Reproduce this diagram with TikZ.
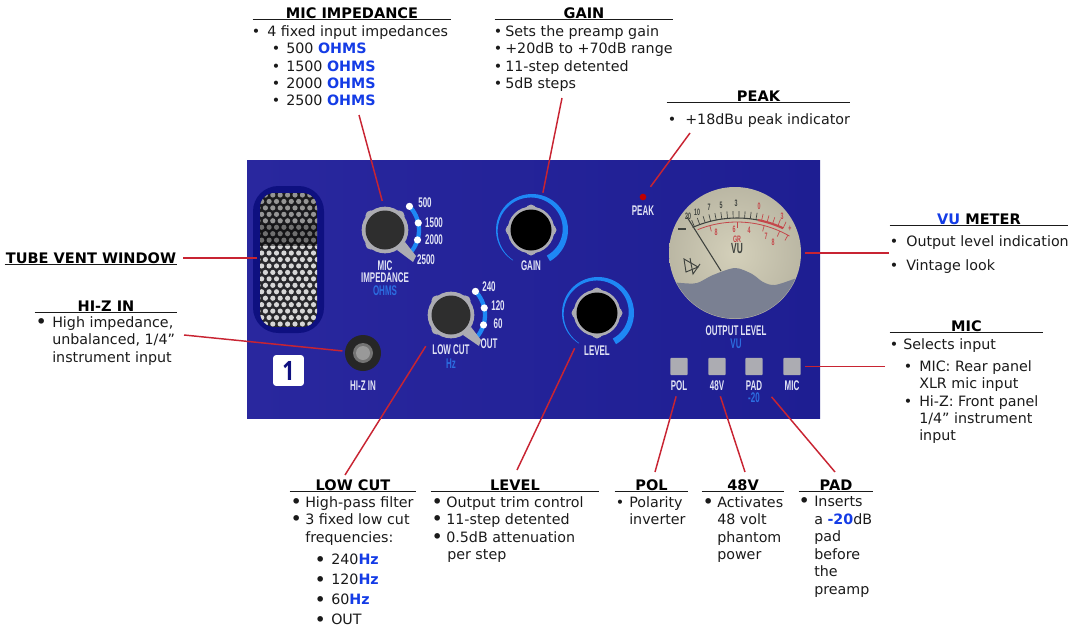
\documentclass[tikz,border=0pt]{standalone}
\usepackage{fontspec}
\setmainfont{DejaVu Sans}
\newfontfamily\panelfont[FakeStretch=0.57]{Liberation Sans Bold}
\newfontfamily\channelfont[FakeStretch=0.8]{Open Sans Bold}
\usepackage{tikz}
\usepackage{xcolor}
\definecolor{panelleft}{RGB}{41,39,158}
\definecolor{panelright}{RGB}{30,30,146}
\definecolor{ventblue}{RGB}{14,16,128}
\definecolor{meshdark}{RGB}{40,40,44}
\definecolor{ringgray}{RGB}{172,172,178}
\definecolor{arcblue}{RGB}{30,136,245}
\definecolor{panelwhite}{RGB}{226,228,245}
\definecolor{labelblue}{RGB}{44,110,225}
\definecolor{txtblue}{RGB}{20,60,230}
\definecolor{leadred}{RGB}{200,36,50}
\definecolor{inktext}{RGB}{26,26,26}
\definecolor{vucream}{RGB}{212,208,186}
\definecolor{vuwave}{RGB}{122,128,146}
\definecolor{vuink}{RGB}{62,66,62}
\definecolor{vured}{RGB}{196,70,74}
\tikzstyle{leader} = [color=leadred, line width=1.1pt]
\tikzstyle{headtext} = [font=\bfseries\fontsize{10.9}{12}\selectfont, text=black, inner sep=0pt, minimum height=9pt, text height=8pt, text depth=0pt]
\tikzstyle{headrule} = [color=inktext, line width=0.8pt]
\tikzstyle{listtext} = [font=\fontsize{10.7}{13.1}\selectfont, text=inktext, inner sep=0pt, anchor=north west, align=left, execute at begin node=\strut]
\tikzstyle{paneltext} = [font=\panelfont\fontsize{10.5}{12}\selectfont, text=panelwhite, inner sep=0pt]
\tikzstyle{bluetext} = [font=\panelfont\fontsize{10.5}{12}\selectfont, text=labelblue, inner sep=0pt]
\tikzstyle{knobring} = [circle, fill=ringgray, minimum size=35pt, inner sep=0pt, outer sep=0pt]
\tikzstyle{switchbtn} = [rectangle, rounded corners=0.8pt, fill=ringgray, minimum size=13pt, inner sep=0pt, outer sep=0pt]
\tikzstyle{stepdot} = [fill=white]
\newcommand{\hl}[1]{\textcolor{txtblue}{\textbf{#1}}}
\newcommand{\bul}[1][9pt]{\makebox[#1][l]{\hspace*{-2.5pt}\textbullet}}
\newcommand{\bbul}[1][9pt]{\makebox[#1][l]{\hspace*{-3.5pt}\raisebox{-0.8pt}{\scalebox{1.35}{\textbullet}}}}
% name, position, rotation of the bumps, colour of the cap, radius of the cap
\newcommand{\drawknob}[5]{%
\node (#1) [knobring] at (#2) {};
\foreach \a in {0,90,180,270}
  \fill[ringgray] ([shift={(\a+#3:20)}]#1.center) circle (5.5);
\fill[#4] (#1.center) circle (#5);
}

\begin{document}
\begin{tikzpicture}[x=0.75pt, y=-0.75pt]
\useasboundingbox (0,0) rectangle (1078,639);

% Panel
\node (panel) [rectangle, left color=panelleft, right color=panelright, minimum width=429.75pt, minimum height=193.5pt, inner sep=0pt] at (533.5,289) {};

% Tube vent window
\node (vent) [rectangle, rounded corners=19pt, fill=ventblue, minimum width=53.25pt, minimum height=110.25pt, inner sep=0pt, outer sep=0pt] at (288.5,259.5) {};
\begin{scope}
\clip[rounded corners=11pt] (260,193) rectangle (317,327);
\fill[meshdark] (260,193) rectangle (317,327);
\foreach \r in {0,...,21}
  \foreach \c in {0,...,8}
    \fill[white!84!black] ({258+\c*7.4+mod(\r,2)*3.7},{195+\r*6.45}) circle (2.6);
\fill[black, opacity=0.3] (260,193) rectangle (317,224);
\fill[black, opacity=0.48] (260,224) rectangle (317,246);
\end{scope}

% Channel number and Hi-Z jack
\node (channel) [rectangle, rounded corners=2pt, fill=white, minimum size=23pt, inner sep=0pt, text=ventblue, font=\channelfont\fontsize{20}{20}\selectfont] at (288.5,370.5) {1};
\node (jack) [circle, fill=black!85, minimum size=27pt, inner sep=0pt, outer sep=0pt] at (363,353) {};
\fill[black!55] (jack.center) circle (10);
\fill[black!40] (jack.center) circle (7);
\node (jacklabel) [paneltext] at (363,386) {HI-Z IN};

% Mic impedance switch
\draw[arcblue, line width=3.2pt] plot[domain=-44:45, samples=20] ({385+34*cos(\x)},{230+34*sin(\x)});
\drawknob{micknob}{385,230}{45}{black!82}{19.5}
\fill[ringgray] (405,242) -- (416,256) -- (413,262) -- (397,250) -- cycle;
\foreach \p in {-44,-12,17}
  \fill[stepdot] ({385+34*cos(\p)},{230+34*sin(\p)}) circle (3.6);
\node (mic500) [paneltext] at (425,203) {500};
\node (mic1500) [paneltext] at (434,223) {1500};
\node (mic2000) [paneltext] at (434,240) {2000};
\node (mic2500) [paneltext] at (426,260) {2500};
\node (micname) [paneltext] at (385,266) {MIC};
\node (micname2) [paneltext] at (385,278) {IMPEDANCE};
\node (micunit) [bluetext] at (385,291) {OHMS};

% Low cut switch
\draw[arcblue, line width=3.2pt] plot[domain=-44:45, samples=20] ({451+34*cos(\x)},{315+34*sin(\x)});
\drawknob{lowknob}{451,315}{45}{black!82}{19.5}
\fill[ringgray] (471,327) -- (481,340) -- (479,346) -- (463,335) -- cycle;
\foreach \p in {-44,-12,17}
  \fill[stepdot] ({451+34*cos(\p)},{315+34*sin(\p)}) circle (3.6);
\node (low240) [paneltext] at (489,287) {240};
\node (low120) [paneltext] at (498,306) {120};
\node (low60) [paneltext] at (498,324) {60};
\node (lowout) [paneltext] at (489,344) {OUT};
\node (lowname) [paneltext] at (451,350) {LOW CUT};
\node (lowunit) [bluetext] at (451,364) {Hz};

% Gain knob
\fill[arcblue] plot[domain=122:420, samples=50] ({532+36*cos(\x)},{230+36*sin(\x)})
  -- plot[domain=420:122, samples=50] ({532+(35.5-(\x-122)/298*6)*cos(\x)},{230+(35.5-(\x-122)/298*6)*sin(\x)}) -- cycle;
\drawknob{gainknob}{531,230}{0}{black}{20.5}
\node (gainname) [paneltext] at (531,266) {GAIN};

% Level knob
\fill[arcblue] plot[domain=122:420, samples=50] ({598+36*cos(\x)},{313+36*sin(\x)})
  -- plot[domain=420:122, samples=50] ({598+(35.5-(\x-122)/298*6)*cos(\x)},{313+(35.5-(\x-122)/298*6)*sin(\x)}) -- cycle;
\drawknob{levelknob}{597,313}{0}{black}{20.5}
\node (levelname) [paneltext] at (597,351) {LEVEL};

% Peak LED
\node (peakled) [circle, fill=red!75!black, minimum size=5pt, inner sep=0pt, outer sep=0pt] at (643,197) {};
\node (peakname) [paneltext] at (643,211) {PEAK};

% VU meter
\node (vu) [circle, inner color=vucream, outer color=vucream!88!black, minimum size=99pt, inner sep=0pt, outer sep=0pt] at (735,253) {};
\begin{scope}
\clip (735,253) circle (65.5);
\fill[vuwave] plot[smooth] coordinates {(665,281) (681,283) (697,283) (713,275) (735,268) (752,274) (763,282) (775,285) (797,278) (805,276)} -- (805,325) -- (665,325) -- cycle;
\end{scope}
\draw[vuink, line width=0.8pt] plot[domain=-114:-79, samples=20] ({737+109*cos(\x)},{327+109*sin(\x)});
\draw[vured, line width=1.6pt] plot[domain=-79:-65, samples=10] ({737+109*cos(\x)},{327+109*sin(\x)});
\draw[vured, line width=0.6pt] plot[domain=-112:-60, samples=20] ({737+105*cos(\x)},{327+105*sin(\x)});
\foreach \t in {-113,-110,-107,-104,-101,-98,-95,-92,-89,-86,-83,-80}
  \draw[vuink, line width=0.5pt] ({737+109*cos(\t)},{327+109*sin(\t)}) -- ({737+116*cos(\t)},{327+116*sin(\t)});
\foreach \t in {-77,-74,-71,-68,-65}
  \draw[vured, line width=0.5pt] ({737+109*cos(\t)},{327+109*sin(\t)}) -- ({737+116*cos(\t)},{327+116*sin(\t)});
\foreach \t in {-105,-90,-75,-66,-61}
  \draw[vured, line width=0.5pt] ({737+105*cos(\t)},{327+105*sin(\t)}) -- ({737+99*cos(\t)},{327+99*sin(\t)});
\foreach \x/\y/\s in {688/216/20,697/212/10,709/207/7,721/205/5,736/203/3}
  \node[font=\panelfont\fontsize{7}{8}\selectfont, text=vuink, inner sep=0pt] at (\x,\y) {\s};
\foreach \x/\y/\s in {759/206/0,782/216/3,790/229/+,716/232/8,734/229/6,749/230/4,766/236/7,773/242/8,737/239/GR}
  \node[font=\panelfont\fontsize{7}{8}\selectfont, text=vured, inner sep=0pt] at (\x,\y) {\s};
\node (vuword) [font=\panelfont\fontsize{11}{12}\selectfont, text=vuink, inner sep=0pt] at (737,249) {VU};
\draw[vuink, line width=0.7pt] (684,259) -- (698,267) -- (686,272) -- cycle;
\draw[vuink, line width=0.7pt] (690,258) -- (693,274) -- (700,264);
\draw[vuink, line width=0.8pt] (721,271) -- (687,217);
\draw[vuink, line width=1pt] (678,229) -- (686,229);
\node (vuname) [paneltext] at (736,331) {OUTPUT LEVEL};
\node (vuunit) [bluetext] at (736,344) {VU};

% Switches
\node (polbtn) [switchbtn] at (679,366.5) {};
\node (phantombtn) [switchbtn] at (717,366.5) {};
\node (padbtn) [switchbtn] at (754,366.5) {};
\node (micbtn) [switchbtn] at (792,366.5) {};
\node (polname) [paneltext] at (679,386) {POL};
\node (phantomname) [paneltext] at (717,386) {48V};
\node (padname) [paneltext] at (754,386) {PAD};
\node (padunit) [bluetext] at (754,398) {-20};
\node (micbtnname) [paneltext] at (792,386) {MIC};

% Labels round the panel
\node (micimphead) [headtext, minimum width=148.5pt] at (352,13) {MIC IMPEDANCE};
\node (micimplist) [listtext] at (255,25) {\bul 4 fixed input impedances\\
\hspace*{15pt}\bul[8.25pt]500 \hl{OHMS}\\
\hspace*{15pt}\bul[8.25pt]1500 \hl{OHMS}\\
\hspace*{15pt}\bul[8.25pt]2000 \hl{OHMS}\\
\hspace*{15pt}\bul[8.25pt]2500 \hl{OHMS}};

\node (gainhead) [headtext, minimum width=133.5pt] at (584,13) {GAIN};
\node (gainlist) [listtext] at (497,25) {\bul[6pt]Sets the preamp gain\\
\bul[6pt]+20dB to +70dB range\\
\bul[6pt]11-step detented\\
\bul[6pt]5dB steps};

\node (peakhead) [headtext, minimum width=137.25pt] at (758.5,96) {PEAK};
\node (peaklist) [listtext] at (671,112) {\bul[10.5pt]+18dBu peak indicator};

\node (vuhead) [headtext, minimum width=133.5pt] at (979,219) {\textcolor{txtblue}{VU} METER};
\node (vulist) [listtext] at (893,235) {\bul[9.75pt]Output level indication\\[4.9pt]
\bul[9.75pt]Vintage look};

\node (michead) [headtext, minimum width=114.75pt] at (966.5,326) {MIC};
\node (miclist) [listtext] at (893,338) {\bul[7.5pt]Selects input\\[3.4pt]
\hspace*{10.5pt}\bul MIC: Rear panel\\
\hspace*{19.5pt}XLR mic input\\
\hspace*{10.5pt}\bul Hi-Z: Front panel\\
\hspace*{19.5pt}1/4” instrument\\
\hspace*{19.5pt}input};

\node (tubehead) [headtext, minimum width=129pt] at (91,258) {TUBE VENT WINDOW};
\node (hizhead) [headtext, minimum width=106.5pt] at (106,306) {HI-Z IN};
\node (hizlist) [listtext] at (40,316) {\bbul High impedance,\\
\hspace*{9pt}unbalanced, 1/4”\\
\hspace*{9pt}instrument input};

\node (lowhead) [headtext, minimum width=94.5pt] at (353,485) {LOW CUT};
\node (lowlist) [listtext] at (295,496) {\bbul[7.5pt]High-pass filter\\
\bbul[7.5pt]3 fixed low cut\\[0pt]
\hspace*{7.5pt}frequencies:\\[4.1pt]
\hspace*{18pt}\bbul 240\hl{Hz}\\[1.9pt]
\hspace*{18pt}\bbul 120\hl{Hz}\\[1.9pt]
\hspace*{18pt}\bbul 60\hl{Hz}\\[1.9pt]
\hspace*{18pt}\bbul OUT};

\node (levelhead) [headtext, minimum width=126pt] at (515,485) {LEVEL};
\node (levellist) [listtext] at (436,496) {\bbul[7.5pt]Output trim control\\
\bbul[7.5pt]11-step detented\\
\bbul[7.5pt]0.5dB attenuation\\
\hspace*{8.25pt}per step};

\node (polhead) [headtext, minimum width=54.75pt] at (651.5,485) {POL};
\node (pollist) [listtext] at (619,496) {\bul[7.5pt]Polarity\\
\hspace*{7.5pt}inverter};

\node (phantomhead) [headtext, minimum width=61.5pt] at (743,485) {48V};
\node (phantomlist) [listtext] at (707,496) {\bbul[7.5pt]Activates\\
\hspace*{7.5pt}48 volt\\
\hspace*{7.5pt}phantom\\
\hspace*{7.5pt}power};

\node (padhead) [headtext, minimum width=55.5pt] at (836,485) {PAD};
\node (padlist) [listtext] at (803,496) {\bbul[8.25pt]Inserts\\
\hspace*{8.25pt}a \hl{-20}dB\\
\hspace*{8.25pt}pad\\
\hspace*{8.25pt}before\\
\hspace*{8.25pt}the\\
\hspace*{8.25pt}preamp};

\foreach \h in {micimphead,gainhead,peakhead,vuhead,michead,tubehead,hizhead,lowhead,levelhead,polhead,phantomhead,padhead}
  \draw[headrule] (\h.south west) -- (\h.south east);

% Connectors
\coordinate (micimpfoot) at (359,115);
\coordinate (gainfoot) at (562,98);
\coordinate (peakfoot) at (690,133);
\coordinate (vufoot) at (889,253);
\coordinate (micfoot) at (885,366.5);
\coordinate (hizfoot) at (184,335);
\coordinate (lowfoot) at (345,475);
\coordinate (levelfoot) at (517,470);
\coordinate (polfoot) at (655,472);
\coordinate (phantomfoot) at (745,472);
\coordinate (padfoot) at (835,472);
\draw[leader, shorten >=4.5pt] (micimpfoot) -- (micknob.93);
\draw[leader, shorten >=12pt] (gainfoot) -- (gainknob.68);
\draw[leader, shorten >=7pt] (peakfoot) -- (peakled);
\draw[leader, shorten >=3pt] (vufoot) -- (vu.east);
\draw[leader, shorten >=3pt] (micfoot) -- (micbtn.east);
\draw[leader, shorten <=4.5pt, shorten >=-3pt] (tubehead.east) -- (tubehead.east -| vent.west);
\draw[leader, shorten >=2pt] (hizfoot) -- (jack);
\draw[leader, shorten >=12.75pt] (lowfoot) -- (lowknob.226);
\draw[leader, shorten >=14pt] (levelfoot) -- (levelknob.232);
\draw[leader, shorten >=4pt] (polfoot) -- (polname);
\draw[leader, shorten >=4pt] (phantomfoot) -- (phantomname);
\draw[leader, shorten >=10.6pt] (padfoot) -- (padname.east);
\end{tikzpicture}
\end{document}
